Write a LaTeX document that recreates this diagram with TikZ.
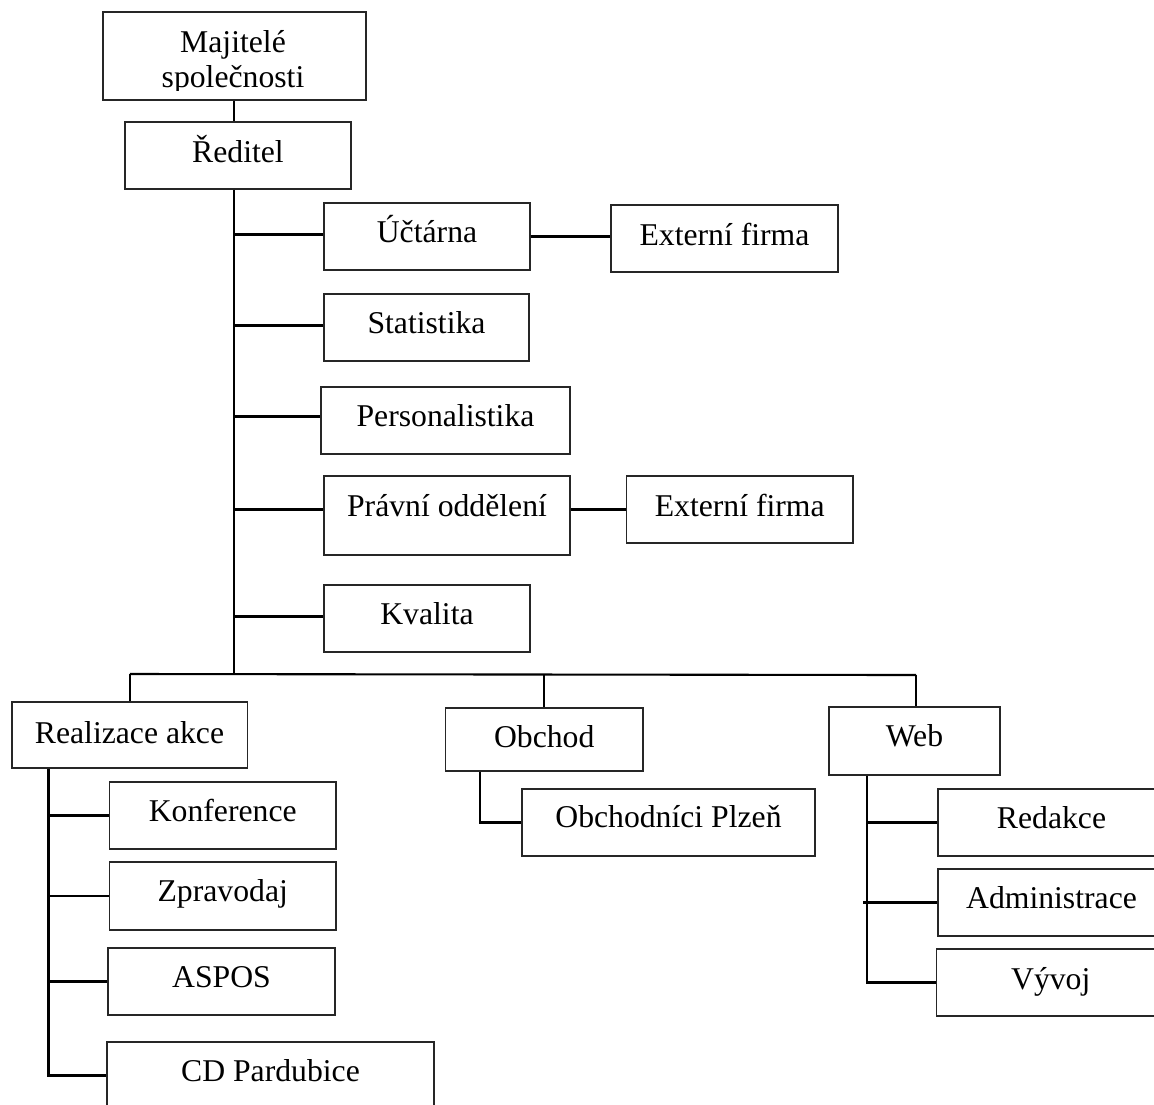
\documentclass[tikz,border=0pt]{standalone}
\usepackage{fontspec}
\setmainfont{Liberation Serif}
\begin{document}
\begin{tikzpicture}[x=1pt,y=-1pt,
  box/.style={draw=black!85,line width=1.2pt,rectangle,inner sep=0pt},
  txt/.style={inner sep=0pt,anchor=base,font=\fontsize{31.7}{35}\selectfont},
  conn/.style={draw=black,line width=2.1pt}]
\useasboundingbox (0,0) rectangle (1154,1104);
\clip (0,0) rectangle (1154,1104);
% boxes
\node[box,minimum width=263pt,minimum height=88pt] (maj) at (234.5,56) {};
\node[box,minimum width=226pt,minimum height=67pt] (reditel) at (238,155.5) {};
\node[box,minimum width=206pt,minimum height=67pt] (uct) at (427,236.5) {};
\node[box,minimum width=227pt,minimum height=67pt] (ext1) at (724.5,238.5) {};
\node[box,minimum width=205pt,minimum height=67pt] (stat) at (426.5,327.5) {};
\node[box,minimum width=249pt,minimum height=67pt] (pers) at (445.5,420.5) {};
\node[box,minimum width=246pt,minimum height=79pt] (prav) at (447,515.5) {};
\node[box,minimum width=226.5pt,minimum height=67pt] (ext2) at (739.75,509.5) {};
\node[box,minimum width=206pt,minimum height=67pt] (kval) at (427,618.5) {};
\node[box,minimum width=235.5pt,minimum height=66pt] (real) at (129.75,735) {};
\node[box,minimum width=197.5pt,minimum height=63pt] (obch) at (544.25,739.5) {};
\node[box,minimum width=171pt,minimum height=68pt] (web) at (914.5,741) {};
\node[box,minimum width=226.5pt,minimum height=67pt] (konf) at (222.75,815.5) {};
\node[box,minimum width=226.5pt,minimum height=68pt] (zpr) at (222.75,896) {};
\node[box,minimum width=227pt,minimum height=67pt] (aspos) at (221.5,981.5) {};
\node[box,minimum width=327pt,minimum height=67pt] (cd) at (270.5,1075.5) {};
\node[box,minimum width=293pt,minimum height=67pt] (opl) at (668.5,822.5) {};
\node[box,minimum width=227pt,minimum height=67pt] (redak) at (1051.5,822.5) {};
\node[box,minimum width=227pt,minimum height=67pt] (adm) at (1051.5,902.5) {};
\node[box,minimum width=228.5pt,minimum height=67pt] (vyv) at (1050.75,982.5) {};
% texts
\node[txt] (maj-t1) at (233,52) {Majitelé};
\begin{scope}
\clip (maj.north west) rectangle ([yshift=10pt]maj.south east);
\node[txt] (maj-t2) at (233,87) {společnosti};
\end{scope}
\node[txt] (reditel-t) at (238,162.5) {Ředitel};
\node[txt] (uct-t) at (427,242) {Účtárna};
\node[txt] (ext1-t) at (724.5,245) {Externí firma};
\node[txt] (stat-t) at (426.5,333) {Statistika};
\node[txt] (pers-t) at (445.5,426.5) {Personalistika};
\node[txt] (prav-t) at (447,516) {Právní oddělení};
\node[txt] (ext2-t) at (739.75,516) {Externí firma};
\node[txt] (kval-t) at (427,624) {Kvalita};
\node[txt] (real-t) at (129.5,743) {Realizace akce};
\node[txt] (obch-t) at (544.25,747) {Obchod};
\node[txt] (web-t) at (914.5,746.7) {Web};
\node[txt] (konf-t) at (222.75,821) {Konference};
\node[txt] (zpr-t) at (222.75,901.7) {Zpravodaj};
\node[txt] (aspos-t) at (221.5,987.7) {ASPOS};
\node[txt] (cd-t) at (270.5,1081.7) {CD Pardubice};
\node[txt] (opl-t) at (668.5,827.7) {Obchodníci Plzeň};
\node[txt] (redak-t) at (1051.5,828.3) {Redakce};
\node[txt] (adm-t) at (1051.5,908.7) {Administrace};
\node[txt] (vyv-t) at (1050.75,989.3) {Vývoj};
% connector coordinates
\coordinate (tb) at (234,674);
\coordinate (bw) at (916,675);
\coordinate (rb) at (48.5,0);
\coordinate (ob) at (480,0);
\coordinate (wb) at (867,0);
% connectors
\draw[conn] (maj.south -| tb) -- (reditel.north -| tb);
\draw[conn] (reditel.south -| tb) -- (tb);
\draw[conn] ([yshift=2pt]uct.west -| tb) -- ([yshift=2pt]uct.west);
\draw[conn] ([yshift=2pt]stat.west -| tb) -- ([yshift=2pt]stat.west);
\draw[conn] ([yshift=4pt]pers.west -| tb) -- ([yshift=4pt]pers.west);
\draw[conn] ([yshift=6pt]prav.west -| tb) -- ([yshift=6pt]prav.west);
\draw[conn] ([yshift=2pt]kval.west -| tb) -- ([yshift=2pt]kval.west);
\draw[conn] (uct.east) -- (uct.east -| ext1.west);
\draw[conn] (ext2.west -| prav.east) -- (ext2.west);
\draw[conn] (real.north |- tb) -- (bw);
\draw[conn] (real.north |- tb) -- (real.north);
\draw[conn] (obch.north |- tb) -- (obch.north);
\draw[conn] (bw) -- (bw |- web.north);
\draw[conn] (real.south -| rb) |- (cd.west);
\draw[conn] (konf.west -| rb) -- (konf.west);
\draw[conn] (zpr.west -| rb) -- (zpr.west);
\draw[conn] (aspos.west -| rb) -- (aspos.west);
\draw[conn] (obch.south -| ob) |- (opl.west);
\draw[conn] (web.south -| wb) |- (vyv.west);
\draw[conn] (redak.west -| wb) -- (redak.west);
\draw[conn] ([xshift=-4pt]adm.west -| wb) -- (adm.west);
\end{tikzpicture}
\end{document}
